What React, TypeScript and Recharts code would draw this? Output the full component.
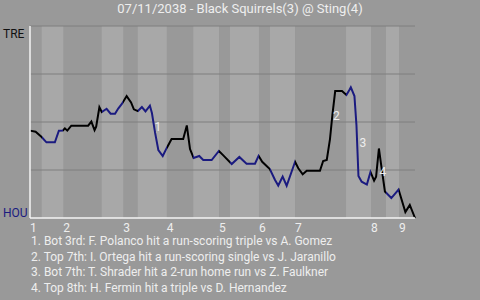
import {
  LineChart,
  Line,
  XAxis,
  YAxis,
  ReferenceArea,
  ReferenceLine,
  ReferenceDot,
} from "recharts";

// play index along the game, win probability for TRE (1 = TRE, 0 = HOU)
const plays = [
  0, 1.4, 2.9, 4.1, 6.2, 7.2, 8.2, 8.7, 9.3, 10.3, 14.5, 15.3, 16.1, 16.5, 17.3, 17.9,
  19.1, 20.1, 21.2, 22.0, 22.9, 24.1, 25.2, 25.9, 26.9, 27.9, 28.8, 29.9, 30.4, 31.2,
  32.0, 33.1, 34.1, 35.3, 38.2, 39.1, 39.9, 40.8, 42.2, 43.2, 45.3, 47.1, 48.2, 50.3,
  52.2, 54.0, 56.1, 57.0, 57.9, 59.0, 59.8, 61.1, 61.9, 63.0, 64.0, 66.1, 66.9, 68.0,
  69.0, 72.3, 73.1, 74.0, 74.8, 75.4, 76.1, 77.8, 78.9, 79.7, 80.0, 80.9, 81.4, 81.9,
  82.7, 84.0, 84.9, 85.8, 86.3, 87.0, 87.5, 88.5, 90.1, 91.9, 93.6, 94.7, 96,
];
const winProb = [
  0.455, 0.449, 0.422, 0.394, 0.394, 0.455, 0.456, 0.467, 0.455, 0.481, 0.481, 0.502,
  0.458, 0.476, 0.577, 0.552, 0.569, 0.543, 0.543, 0.57, 0.594, 0.635, 0.602, 0.566,
  0.557, 0.578, 0.555, 0.585, 0.547, 0.443, 0.354, 0.323, 0.365, 0.411, 0.411, 0.482,
  0.359, 0.313, 0.323, 0.302, 0.302, 0.349, 0.326, 0.281, 0.318, 0.283, 0.283, 0.324,
  0.293, 0.271, 0.255, 0.198, 0.169, 0.216, 0.168, 0.293, 0.259, 0.228, 0.246, 0.246,
  0.297, 0.302, 0.411, 0.536, 0.661, 0.661, 0.641, 0.669, 0.681, 0.635, 0.484, 0.219,
  0.189, 0.174, 0.24, 0.195, 0.215, 0.362, 0.286, 0.138, 0.104, 0.148, 0.031, 0.068, 0,
];

// where each half inning starts (top 1st, bot 1st, top 2nd, ...)
const halfStarts = [
  0, 2.92, 8.3, 17.88, 23.26, 26.86, 34.09, 40.72, 47.13, 49.87, 57.1, 59.84, 66.08,
  78.8, 85.03, 88.77, 92.01,
];
const lastPlay = 96;
const inningLabels = ["1", "2", "3", "4", "5", "6", "7", "8", "9"];

const markerX = [31.9, 76.4, 83.0, 88.0];
const markerY = [0.474, 0.529, 0.391, 0.241];
const markerText = ["1", "2", "3", "4"];

const notes = [
  "1. Bot 3rd: F. Polanco hit a run-scoring triple vs A. Gomez",
  "2. Top 7th: I. Ortega hit a run-scoring single vs J. Jaranillo",
  "3. Bot 7th: T. Shrader hit a 2-run home run vs Z. Faulkner",
  "4. Top 8th: H. Fermin hit a triple vs D. Hernandez",
];

const title = "07/11/2038 - Black Squirrels(3) @ Sting(4)";

const BG = "#999999";
const STRIPE = "#a8a8a8";
const AWAY = "#000000";
const HOME = "#1b1b80";
const FONT = "Roboto, sans-serif";

const data = plays.map((p, i) => ({ play: p, wp: winProb[i] }));
const inningStarts = halfStarts.filter((_, i) => i % 2 === 0);
const botHalves = halfStarts
  .map((s, i) => ({ s, e: halfStarts[i + 1] ?? lastPlay, bot: i % 2 === 1 }))
  .filter((h) => h.bot);

const YTick = (props: any) => {
  const top = props.payload.value === 1;
  return (
    <text
      x={3}
      y={top ? props.y + 11.5 : props.y - 1}
      fontSize={12}
      fontFamily={FONT}
      fill={top ? "#111" : HOME}
    >
      {top ? "TRE" : "HOU"}
    </text>
  );
};

const XTick = (props: any) => {
  const idx = inningStarts.indexOf(props.payload.value);
  return (
    <text x={props.x} y={232} fontSize={12} fontFamily={FONT} fill="#eeeeee">
      {inningLabels[idx]}
    </text>
  );
};

export default function App() {
  return (
    <div
      style={{
        position: "fixed",
        left: 0,
        top: 0,
        width: 480,
        height: 300,
        background: BG,
        fontFamily: FONT,
      }}
    >
      <div
        style={{
          position: "absolute",
          top: 0,
          left: 0,
          width: 480,
          textAlign: "center",
          fontSize: 13,
          lineHeight: "18px",
          color: "#eeeeee",
        }}
      >
        {title}
      </div>
      <LineChart
        width={480}
        height={300}
        data={data}
        margin={{ top: 26, right: 65, left: 0, bottom: 0 }}
      >
        <defs>
          <linearGradient id="wpStroke" x1="0" y1="0" x2="1" y2="0">
            {halfStarts.flatMap((s, i) => {
              const e = halfStarts[i + 1] ?? lastPlay;
              const c = i % 2 === 0 ? AWAY : HOME;
              return [
                <stop key={"a" + i} offset={s / lastPlay} stopColor={c} />,
                <stop key={"b" + i} offset={e / lastPlay} stopColor={c} />,
              ];
            })}
          </linearGradient>
        </defs>
        {botHalves.map((h) => (
          <ReferenceArea
            key={h.s}
            x1={h.s}
            x2={h.e}
            y1={0}
            y2={1}
            fill={STRIPE}
            fillOpacity={1}
            stroke="none"
          />
        ))}
        {[0.25, 0.5, 0.75, 1].map((v) => (
          <ReferenceLine key={v} y={v} stroke="#7f7f7f" strokeWidth={1} />
        ))}
        <XAxis
          dataKey="play"
          type="number"
          domain={[0, lastPlay]}
          ticks={inningStarts}
          interval={0}
          height={82}
          tickLine={false}
          tickSize={0}
          axisLine={{ stroke: "#f4f4f4", strokeWidth: 1.5 }}
          tick={<XTick />}
        />
        <YAxis
          type="number"
          domain={[0, 1]}
          ticks={[0, 1]}
          width={30}
          tickLine={false}
          axisLine={{ stroke: "#f4f4f4", strokeWidth: 1.5 }}
          tick={<YTick />}
        />
        <Line
          type="linear"
          dataKey="wp"
          stroke="url(#wpStroke)"
          strokeWidth={2}
          dot={false}
          isAnimationActive={false}
        />
        {markerX.map((mx, i) => (
          <ReferenceDot
            key={i}
            x={mx}
            y={markerY[i]}
            r={0}
            shape={(p: any) => (
              <text
                x={p.cx}
                y={p.cy}
                textAnchor="middle"
                dominantBaseline="central"
                fontSize={12}
                fontFamily={FONT}
                fill="#eeeeee"
              >
                {markerText[i]}
              </text>
            )}
          />
        ))}
      </LineChart>
      <div
        style={{
          position: "absolute",
          left: 31,
          top: 234,
          fontSize: 12,
          lineHeight: "15.7px",
          color: "#eeeeee",
          whiteSpace: "pre",
        }}
      >
        {notes.map((n) => (
          <div key={n}>{n}</div>
        ))}
      </div>
    </div>
  );
}
